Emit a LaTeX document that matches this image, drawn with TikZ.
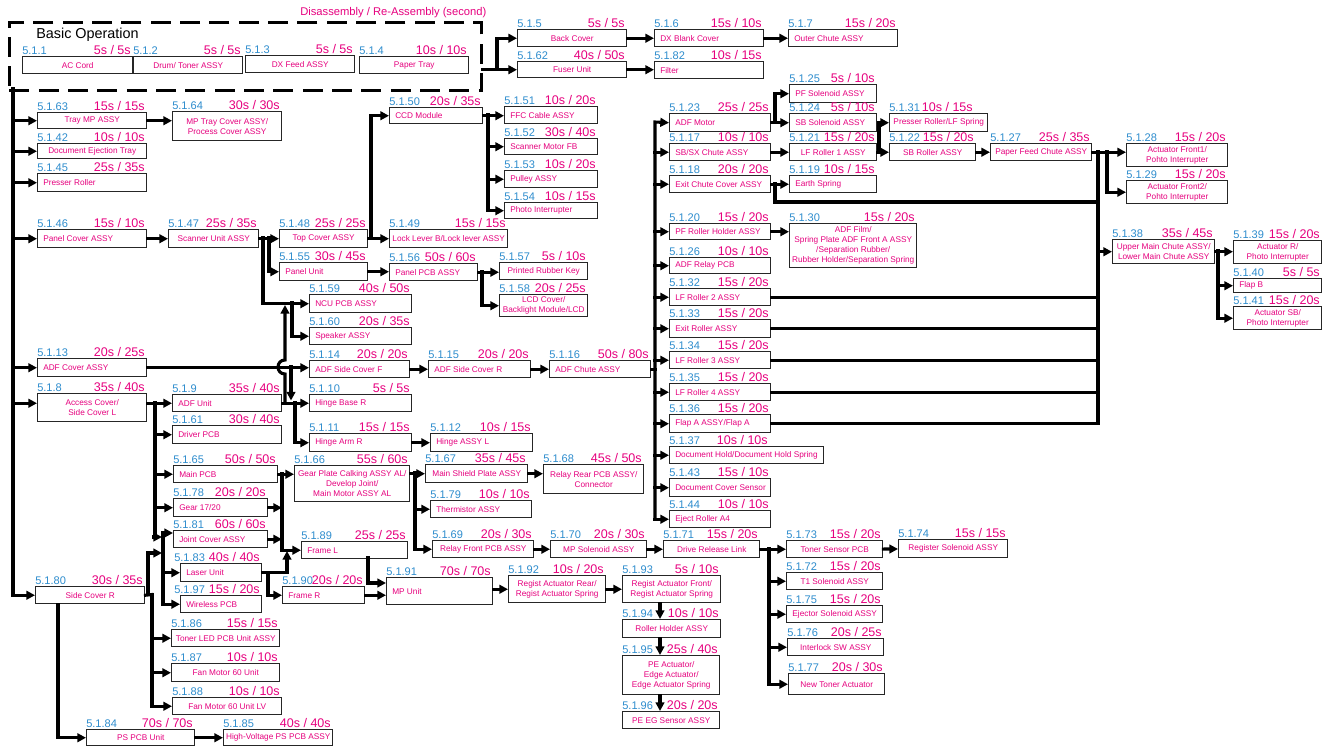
\documentclass[tikz,border=0pt]{standalone}
\usepackage{fontspec}
\setmainfont{Liberation Sans}
\usetikzlibrary{arrows.meta,calc}
\definecolor{pk}{RGB}{230,0,126}
\definecolor{bl}{RGB}{45,140,205}
\newcommand\bx[9]{%
  \pgfmathsetmacro\bxw{(#4-#2)*0.75}%
  \pgfmathsetmacro\bxh{(#5-#3)*0.75}%
  \node[box, minimum width=\bxw pt, minimum height=\bxh pt, anchor=north west] (#1) at (#2,#3) {};
  \ifx c#6\node[btxt] (#1x) at (#1.center) {#7};\else\node[btxt, anchor=west] (#1x) at ($(#1.west)+(6,0)$) {#7};\fi
  \node[num] (#1n) at (#2,#3-2) {#8};
  \node[tim] (#1t) at (#4-1,#3-2) {#9};
}
\begin{document}
\begin{tikzpicture}[x=0.75pt,y=-0.75pt,
  box/.style={draw=black!85, line width=1.1pt, inner sep=0pt, fill=white},
  btxt/.style={text=pk, font=\fontsize{6.2}{7.5}\selectfont, align=center, inner sep=0pt},
  num/.style={text=bl, font=\fontsize{8.3}{9}\selectfont, anchor=base west, inner sep=0pt},
  tim/.style={text=pk, font=\fontsize{9.4}{10}\selectfont, anchor=base east, inner sep=0pt},
  con/.style={line width=2.3pt, line cap=rect, -{Triangle[length=6.5pt,width=6.5pt]}},
  ln/.style={line width=2.3pt, line cap=rect}]
\useasboundingbox (0,0) rectangle (1331,746);
% header
\node[text=pk, font=\fontsize{8.4}{10}\selectfont, anchor=base west, inner sep=0pt] (ttl) at (300,16) {Disassembly / Re-Assembly (second)};
\node[draw, line width=2.2pt, dash pattern=on 15pt off 7pt, minimum width=354pt, minimum height=51pt, anchor=north west, inner sep=0pt] (basic) at (8,21) {};
\node[font=\fontsize{10.8}{12}\selectfont, anchor=base west, inner sep=0pt] (bo) at (36,38) {Basic Operation};
% basic row
\bx{b1}{22}{56}{132}{73}{c}{AC Cord}{5.1.1}{5s / 5s}
\bx{b2}{133}{56}{242}{73}{c}{Drum/ Toner ASSY}{5.1.2}{5s / 5s}
\bx{b3}{245}{55}{354}{72}{c}{DX Feed ASSY}{5.1.3}{5s / 5s}
\bx{b4}{359}{56}{468}{73}{c}{Paper Tray}{5.1.4}{10s / 10s}
% top right of dashed
\bx{b5}{517}{29}{626}{46}{c}{Back Cover}{5.1.5}{5s / 5s}
\bx{b6}{654}{29}{763}{46}{l}{DX Blank Cover}{5.1.6}{15s / 10s}
\bx{b7}{788}{29}{897}{46}{l}{Outer Chute ASSY}{5.1.7}{15s / 20s}
\bx{b62}{517}{61}{626}{77}{c}{Fuser Unit}{5.1.62}{40s / 50s}
\bx{b82}{654}{61}{763}{78}{l}{Filter}{5.1.82}{10s / 15s}
% left column
\bx{b63}{37}{112}{146}{128}{c}{Tray MP ASSY}{5.1.63}{15s / 15s}
\bx{b64}{172}{111}{281}{140}{c}{MP Tray Cover ASSY/\\Process Cover ASSY}{5.1.64}{30s / 30s}
\bx{b42}{37}{143}{146}{158}{c}{Document Ejection Tray}{5.1.42}{10s / 10s}
\bx{b45}{37}{173}{146}{191}{l}{Presser Roller}{5.1.45}{25s / 35s}
\bx{b46}{37}{229}{146}{247}{l}{Panel Cover ASSY}{5.1.46}{15s / 10s}
\bx{b47}{168}{229}{258}{247}{c}{Scanner Unit ASSY}{5.1.47}{25s / 35s}
\bx{b48}{279}{229}{367}{247}{c}{Top Cover ASSY}{5.1.48}{25s / 25s}
\bx{b50}{389}{107}{482}{123}{l}{CCD Module}{5.1.50}{20s / 35s}
\bx{b49}{389}{229}{507}{247}{c}{Lock Lever B/Lock lever ASSY}{5.1.49}{15s / 15s}
\bx{b51}{504}{106}{597}{123}{l}{FFC Cable ASSY}{5.1.51}{10s / 20s}
\bx{b52}{504}{138}{597}{154}{l}{Scanner Motor FB}{5.1.52}{30s / 40s}
\bx{b53}{504}{170}{597}{187}{l}{Pulley ASSY}{5.1.53}{10s / 20s}
\bx{b54}{504}{202}{597}{218}{l}{Photo Interrupter}{5.1.54}{10s / 15s}
\bx{b55}{279}{262}{367}{280}{l}{Panel Unit}{5.1.55}{30s / 45s}
\bx{b56}{389}{263}{477}{280}{l}{Panel PCB ASSY}{5.1.56}{50s / 60s}
\bx{b57}{499}{262}{587}{279}{c}{Printed Rubber Key}{5.1.57}{5s / 10s}
\bx{b58}{499}{294}{587}{316}{c}{LCD Cover/\\Backlight Module/LCD}{5.1.58}{20s / 25s}
\bx{b59}{309}{294}{411}{312}{l}{NCU PCB ASSY}{5.1.59}{40s / 50s}
\bx{b60}{309}{327}{411}{344}{l}{Speaker ASSY}{5.1.60}{20s / 35s}
\bx{b13}{37}{358}{146}{376}{l}{ADF Cover ASSY}{5.1.13}{20s / 25s}
\bx{b14}{309}{360}{409}{377}{l}{ADF Side Cover F}{5.1.14}{20s / 20s}
\bx{b15}{428}{360}{530}{377}{l}{ADF Side Cover R}{5.1.15}{20s / 20s}
\bx{b16}{549}{360}{650}{377}{l}{ADF Chute ASSY}{5.1.16}{50s / 80s}
\bx{b8}{37}{393}{146}{421}{c}{Access Cover/\\Side Cover L}{5.1.8}{35s / 40s}
\bx{b9}{172}{394}{281}{411}{l}{ADF Unit}{5.1.9}{35s / 40s}
\bx{b10}{309}{394}{411}{411}{l}{Hinge Base R}{5.1.10}{5s / 5s}
\bx{b11}{309}{433}{411}{451}{l}{Hinge Arm R}{5.1.11}{15s / 15s}
\bx{b12}{430}{433}{532}{451}{l}{Hinge ASSY L}{5.1.12}{10s / 15s}
\bx{b61}{172}{425}{281}{443}{l}{Driver PCB}{5.1.61}{30s / 40s}
\bx{b65}{173}{465}{277}{482}{l}{Main PCB}{5.1.65}{50s / 50s}
\bx{b66}{294}{465}{409}{501}{c}{Gear Plate Calking ASSY AL/\\Develop Joint/\\Main Motor ASSY AL}{5.1.66}{55s / 60s}
\bx{b67}{425}{464}{527}{482}{c}{Main Shield Plate ASSY}{5.1.67}{35s / 45s}
\bx{b68}{543}{464}{643}{493}{c}{Relay Rear PCB ASSY/\\Connector}{5.1.68}{45s / 50s}
\bx{b79}{430}{500}{531}{517}{l}{Thermistor ASSY}{5.1.79}{10s / 10s}
\bx{b78}{173}{498}{267}{516}{l}{Gear 17/20}{5.1.78}{20s / 20s}
\bx{b81}{173}{530}{267}{547}{l}{Joint Cover ASSY}{5.1.81}{60s / 60s}
\bx{b83}{180}{563}{261}{581}{l}{Laser Unit}{}{40s / 40s}
\node[num] (b83nn) at (174,561) {5.1.83};
\bx{b97}{180}{595}{261}{612}{l}{Wireless PCB}{}{15s / 20s}
\node[num] (b97nn) at (174,593) {5.1.97};
\bx{b89}{301}{541}{407}{558}{l}{Frame L}{5.1.89}{25s / 25s}
\bx{b90}{282}{586}{364}{603}{l}{Frame R}{5.1.90}{20s / 20s}
\bx{b91}{386}{577}{492}{604}{l}{MP Unit}{5.1.91}{70s / 70s}
\bx{b69}{432}{540}{533}{557}{c}{Relay Front PCB ASSY}{5.1.69}{20s / 30s}
\bx{b70}{550}{540}{646}{557}{c}{MP Solenoid ASSY}{5.1.70}{20s / 30s}
\bx{b71}{663}{540}{759}{557}{c}{Drive Release Link}{5.1.71}{15s / 20s}
\bx{b73}{786}{540}{882}{557}{c}{Toner Sensor PCB}{5.1.73}{15s / 20s}
\bx{b74}{898}{539}{1007}{557}{c}{Register Solenoid ASSY}{5.1.74}{15s / 15s}
\bx{b72}{786}{572}{882}{589}{c}{T1 Solenoid ASSY}{5.1.72}{15s / 20s}
\bx{b75}{786}{605}{882}{622}{c}{Ejector Solenoid ASSY}{5.1.75}{15s / 20s}
\bx{b76}{787}{638}{883}{655}{c}{Interlock SW ASSY}{5.1.76}{20s / 25s}
\bx{b77}{788}{673}{884}{694}{c}{New Toner Actuator}{5.1.77}{20s / 30s}
\bx{b92}{508}{575}{605}{602}{c}{Regist Actuator Rear/\\Regist Actuator Spring}{5.1.92}{10s / 20s}
\bx{b93}{622}{575}{720}{602}{c}{Regist Actuator Front/\\Regist Actuator Spring}{5.1.93}{5s / 10s}
\bx{b94}{622}{619}{720}{637}{c}{Roller Holder ASSY}{5.1.94}{10s / 10s}
\bx{b95}{622}{655}{719}{694}{c}{PE Actuator/\\Edge Actuator/\\Edge Actuator Spring}{5.1.95}{25s / 40s}
\bx{b96}{622}{711}{719}{728}{c}{PE EG Sensor ASSY}{5.1.96}{20s / 20s}
\bx{b80}{35}{586}{144}{603}{c}{Side Cover R}{5.1.80}{30s / 35s}
\bx{b86}{171}{629}{279}{646}{c}{Toner LED PCB Unit ASSY}{5.1.86}{15s / 15s}
\bx{b87}{171}{663}{279}{681}{c}{Fan Motor 60 Unit}{5.1.87}{10s / 10s}
\bx{b88}{172}{697}{281}{714}{c}{Fan Motor 60 Unit LV}{5.1.88}{10s / 10s}
\bx{b84}{86}{729}{194}{745}{c}{PS PCB Unit}{5.1.84}{70s / 70s}
\bx{b85}{223}{729}{332}{745}{c}{High-Voltage PS PCB ASSY}{5.1.85}{40s / 40s}
% right column
\bx{b23}{669}{113}{770}{131}{l}{ADF Motor}{5.1.23}{25s / 25s}
\bx{b17}{669}{143}{770}{160}{l}{SB/SX Chute ASSY}{5.1.17}{10s / 10s}
\bx{b18}{669}{175}{770}{192}{l}{Exit Chute Cover ASSY}{5.1.18}{20s / 20s}
\bx{b20}{669}{223}{770}{239}{l}{PF Roller Holder ASSY}{5.1.20}{15s / 20s}
\bx{b26}{669}{257}{770}{273}{l}{ADF Relay PCB}{5.1.26}{10s / 10s}
\bx{b32}{669}{288}{770}{305}{l}{LF Roller 2 ASSY}{5.1.32}{15s / 20s}
\bx{b33}{669}{319}{770}{337}{l}{Exit Roller ASSY}{5.1.33}{15s / 20s}
\bx{b34}{669}{351}{770}{368}{l}{LF Roller 3 ASSY}{5.1.34}{15s / 20s}
\bx{b35}{669}{383}{770}{400}{l}{LF Roller 4 ASSY}{5.1.35}{15s / 20s}
\bx{b36}{669}{414}{770}{432}{l}{Flap A ASSY/Flap A}{5.1.36}{15s / 20s}
\bx{b37}{669}{446}{823}{463}{l}{Document Hold/Document Hold Spring}{5.1.37}{}
\node[tim] (b37tt) at (768,444) {10s / 10s};
\bx{b43}{669}{478}{770}{496}{l}{Document Cover Sensor}{5.1.43}{15s / 10s}
\bx{b44}{669}{510}{770}{527}{l}{Eject Roller A4}{5.1.44}{10s / 10s}
\bx{b25}{789}{84}{876}{102}{l}{PF Solenoid ASSY}{5.1.25}{5s / 10s}
\bx{b24}{789}{113}{876}{131}{l}{SB Solenoid ASSY}{5.1.24}{5s / 10s}
\bx{b21}{789}{143}{876}{160}{c}{LF Roller 1 ASSY}{5.1.21}{15s / 20s}
\bx{b19}{789}{175}{876}{192}{l}{Earth Spring}{5.1.19}{10s / 15s}
\bx{b30}{789}{223}{916}{267}{c}{ADF Film/\\Spring Plate ADF Front A ASSY\\/Separation Rubber/\\Rubber Holder/Separation Spring}{5.1.30}{15s / 20s}
\bx{b31}{889}{113}{987}{131}{c}{Presser Roller/LF Spring}{5.1.31}{}
\node[tim] (b31tt) at (973,111) {10s / 15s};
\bx{b22}{889}{143}{975}{160}{c}{SB Roller ASSY}{5.1.22}{15s / 20s}
\bx{b27}{990}{143}{1091}{160}{c}{Paper Feed Chute ASSY}{5.1.27}{25s / 35s}
\bx{b28}{1126}{143}{1227}{166}{c}{Actuator Front1/\\Pohto Interrupter}{5.1.28}{15s / 20s}
\bx{b29}{1126}{180}{1227}{203}{c}{Actuator Front2/\\Pohto Interrupter}{5.1.29}{15s / 20s}
\bx{b38}{1112}{239}{1214}{263}{c}{Upper Main Chute ASSY/\\Lower Main Chute ASSY}{5.1.38}{35s / 45s}
\bx{b39}{1233}{240}{1321}{263}{c}{Actuator R/\\Photo Interrupter}{5.1.39}{15s / 20s}
\bx{b40}{1233}{278}{1321}{292}{l}{Flap B}{5.1.40}{5s / 5s}
\bx{b41}{1233}{306}{1321}{329}{c}{Actuator SB/\\Photo Interrupter}{5.1.41}{15s / 20s}

% ===== connectors =====
% left trunk
\coordinate (t0) at (13,89);
\draw[con] (t0) |- (b80.west);
\foreach \n in {b63,b42,b45,b46,b13} \draw[con] (t0 |- \n.west) -- (\n.west);
\draw[con] (t0 |- b9.west) -- (b8.west |- b9.west);
% top
\draw[con] (basic.east |- b62.west) -- (b62.west);
\coordinate (j1) at (497,69);
\draw[con] (j1) |- (b5.west);
\draw[con] (b5) -- (b6);
\draw[con] (b6) -- (b7);
\draw[con] (b62) -- (b82.west |- b62);
% tray mp
\draw[con] (b63) -- (b64.west |- b63);
% panel / scanner
\draw[con] (b46) -- (b47);
\draw[con] (b47) -- (b48);
\coordinate (s1) at (263,238);
\coordinate (s2) at (269,238);
\draw[con] (s2) |- (b55.west);
\draw[con] (s1) |- (b59.west);
\draw[con] (b48) -- (b49);
\coordinate (s3) at (371,238);
\draw[con] (s3) |- (b50.west);
\coordinate (s4) at (488,115);
\draw[con] (b50) -- (b51.west |- b50);
\draw[con] (s4) |- (b54.west);
\draw[con] (s4 |- b52.west) -- (b52.west);
\draw[con] (s4 |- b53.west) -- (b53.west);
\draw[con] (b55) -- (b56.west |- b55);
\draw[con] (b56) -- (b57.west |- b56);
\coordinate (s5) at (482,271.5);
\draw[con] (s5) |- (b58.west);
% ADF unit up to NCU line, with hop
\coordinate (h0) at (285,402.5);
\coordinate (h1) at (285,305);
\draw[con] (h0) -- (285,374) .. controls (275.7,374) and (275.7,360) .. (285,360) -- (h1);
\coordinate (s6) at (292,303);
\draw[con] (s6) |- (b60.west);
% ADF cover
\draw[con] (b13) -- (b14.west |- b13);
\coordinate (k1) at (291,367);
\coordinate (k2) at (291,400.5);
\draw[con] (k1) -- (k2);
\draw[con] (b14) -- (b15);
\draw[con] (b15) -- (b16);
% ADF unit
\draw[con] (b8.east |- b9) -- (b9);
\draw[con] (b9) -- (b10);
\coordinate (k3) at (295,402.5);
\draw[con] (k3) |- (b11.west);
\draw[con] (b11) -- (b12);
% access cover trunk
\coordinate (a1) at (155,402.5);
\coordinate (a2) at (162,537);
\draw[con] (a1) |- (a2);
\foreach \n in {b61,b65,b78} \draw[con] (a1 |- \n.west) -- (\n.west);
\coordinate (c1) at (163,533);
\draw[con] (c1) -- (c1 -| b81.west);
\draw[con] (c1 |- b83.west) -- (b83.west);
\draw[con] (c1) |- (b97.west);
% side cover R
\coordinate (r1) at (148,594.5);
\coordinate (r2) at (162,553);
\coordinate (r3) at (152,594.5);
\draw[ln] (b80.east) -- (r3);
\draw[con] (r1) |- (r2);
\draw[con] (r3) |- (b88.west);
\draw[con] (r3 |- b86.west) -- (b86.west);
\draw[con] (r3 |- b87.west) -- (b87.west);
\draw[con] ($(b80.south west)+(23,0)$) |- (b84.west);
\draw[con] (b84) -- (b85);
% gear plate / frames
\coordinate (g1) at (282,474);
\draw[con] (b65) -- (b66.west |- b65);
\draw[con] (g1) |- (b89.west);
\draw[con] (b78) -- (b78.east -| g1);
\draw[con] (b81) -- (b81.east -| g1);
\coordinate (u1) at (287,551);
\draw[con] (b83.east) -| (u1);
\coordinate (u2) at (268,572.5);
\draw[con] (u2) |- (b90.west);
\draw[con] (b90) -- (b91.west |- b90);
\coordinate (u3) at (368,558);
\coordinate (u4) at (386,583);
\draw[con] (u3) |- (u4);
\draw[con] (b66.east |- b67) -- (b67);
\coordinate (g2) at (415,473);
\draw[con] (g2) |- (b69.west);
\draw[con] (g2 |- b79.west) -- (b79.west);
\draw[con] (b67) -- (b68.west |- b67);
\draw[con] (b69) -- (b70);
\draw[con] (b70) -- (b71);
\coordinate (d1) at (769,548.5);
\draw[con] (b71) -- (b73);
\draw[con] (d1) |- (b77.west);
\foreach \n in {b72,b75,b76} \draw[con] (d1 |- \n.west) -- (\n.west);
\draw[con] (b73) -- (b74);
% MP unit chain
\draw[con] (b91.east |- b92) -- (b92);
\draw[con] (b92) -- (b93);
\coordinate (x6) at (660,0);
\draw[con] (b93.south -| x6) -- (b94.north -| x6);
\draw[con] (b94.south -| x6) -- (b95.north -| x6);
\draw[con] (b95.south -| x6) -- (b96.north -| x6);
% right trunk
\coordinate (rt) at (655,122);
\draw[ln] (b16) -- (b16.east -| rt);
\draw[con] (rt |- b44.west) -- (rt) -- (b23.west);
\foreach \n in {b17,b18,b20,b26,b32,b33,b34,b35,b36,b37,b43,b44} \draw[con] (rt |- \n.west) -- (\n.west);
% ADF motor etc
\draw[con] (b23) -- (b24);
\coordinate (m1) at (775,122);
\draw[con] (m1) |- (b25.west);
\draw[con] (b17) -- (b21);
\draw[con] (b21) -- (b22);
\coordinate (m2) at (879,151.5);
\draw[con] (m2) |- (b31.west);
\draw[con] (b22) -- (b27);
\draw[con] (b27) -- (b28.west |- b27);
\coordinate (m3) at (1107,151.5);
\draw[con] (m3) |- (b29.west);
\coordinate (m4) at (1098,151.5);
\draw[con] (m4) |- (b38.west);
\draw[ln] (m4) -- (m4 |- b36.east);
\draw[con] (b18) -- (b19);
\coordinate (m6) at (775,183.5);
\coordinate (m7) at (1098,202);
\draw[ln] (m6) |- (m7);
\draw[con] (b20) -- (b30.west |- b20);
\foreach \n in {b32,b33,b34,b35,b36} \draw[ln] (\n.east) -- (\n.east -| m4);
\draw[con] (b38) -- (b39.west |- b38);
\coordinate (m8) at (1218,251);
\draw[con] (m8) |- (b41.west);
\draw[con] (m8 |- b40.west) -- (b40.west);
\end{tikzpicture}
\end{document}
